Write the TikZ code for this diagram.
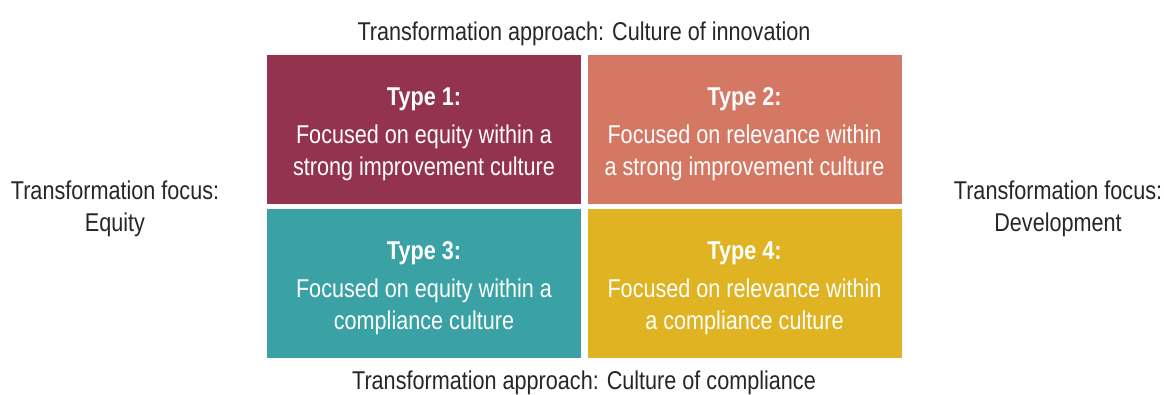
\documentclass[tikz,border=0pt]{standalone}
\usepackage{fontspec}
\setmainfont{Liberation Sans}[FakeStretch=0.84]
\definecolor{typeone}{HTML}{933350}
\definecolor{typetwo}{HTML}{D47864}
\definecolor{typethree}{HTML}{3AA2A5}
\definecolor{typefour}{HTML}{E0B322}
\newcommand{\typetext}[2]{\rule{0pt}{21pt}{\bfseries #1}\\[4.5pt]#2}

\begin{document}
\begin{tikzpicture}[x=0.75pt,y=-0.75pt,
  quad/.style={rectangle,inner sep=0pt,minimum width=235.5pt,minimum height=111.75pt,
    text=white,align=center,font=\fontsize{19.3}{24}\selectfont},
  axislabel/.style={align=center,text=black!85,font=\fontsize{19.3}{24}\selectfont}]
\useasboundingbox (0,0) rectangle (1164,394);
\node at (424,  129.5) (T1) [quad,fill=typeone]   {\typetext{Type 1:}{Focused on equity within a\\strong improvement culture}};
\node at (744.5,129.5) (T2) [quad,fill=typetwo]   {\typetext{Type 2:}{Focused on relevance within\\a strong improvement culture}};
\node at (424,  283)   (T3) [quad,fill=typethree] {\typetext{Type 3:}{Focused on equity within a\\compliance culture}};
\node at (744.5,283)   (T4) [quad,fill=typefour]  {\typetext{Type 4:}{Focused on relevance within\\a compliance culture}};
\node at (584,  34)    (top)    [axislabel] {Transformation approach: Culture of innovation};
\node at (584,  383)   (bottom) [axislabel] {Transformation approach: Culture of compliance};
\node at (115,  209)   (left)   [axislabel] {Transformation focus:\\Equity};
\node at (1058, 209)   (right)  [axislabel] {Transformation focus:\\Development};
\end{tikzpicture}
\end{document}
